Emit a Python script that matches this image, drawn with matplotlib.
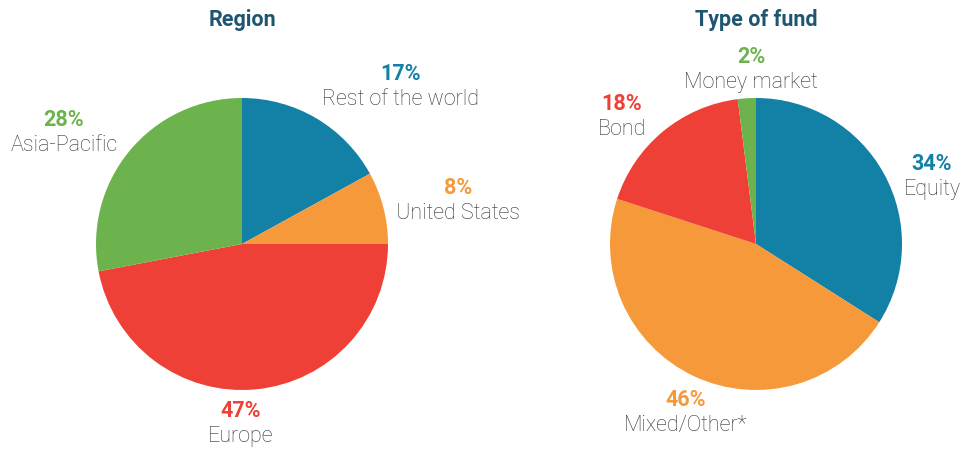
import matplotlib
matplotlib.use("Agg")
import matplotlib.pyplot as plt

# ── Data ──────────────────────────────────────────────────────────────────────
region_labels = ["Rest of the world", "United States", "Europe", "Asia-Pacific"]
region_values = [17, 8, 47, 28]

fund_labels = ["Equity", "Mixed/Other*", "Bond", "Money market"]
fund_values = [34, 46, 18, 2]

BLUE, ORANGE, RED, GREEN = "#1380A6", "#F6993A", "#EE4036", "#6DB34D"
region_colors = [BLUE, ORANGE, RED, GREEN]
fund_colors = [BLUE, ORANGE, RED, GREEN]

TITLE_COLOR = "#1E5570"
NAME_COLOR = "#333333"

# label anchor points in pixels (centre of the percent line)
region_label_px = [(400, 74), (458, 188), (241, 411), (64, 120)]
fund_label_px = [(932, 164), (686, 400), (622, 104), (751, 57)]

W, H = 961, 449
R = 146

plt.rcParams["font.family"] = ["Roboto", "DejaVu Sans"]

fig = plt.figure(figsize=(W / 100, H / 100), dpi=100)


def draw_pie(cx, cy, values, colors, labels, label_px, title):
    ax = fig.add_axes([(cx - R) / W, (H - cy - R) / H, 2 * R / W, 2 * R / H])
    ax.pie(values, colors=colors, startangle=90, counterclock=False,
           radius=1, wedgeprops=dict(linewidth=0))
    ax.set_xlim(-1, 1)
    ax.set_ylim(-1, 1)
    ax.set_aspect("auto")
    ax.axis("off")

    for val, col, name, (px, py) in zip(values, colors, labels, label_px):
        x = (px - cx) / R
        y = -(py - cy) / R
        ax.text(x, y, f"{val}%", color=col, fontsize=15.5, fontweight="bold",
                ha="center", va="center", clip_on=False)
        ax.text(x, y - 25.5 / R, name, color=NAME_COLOR, fontsize=15.5,
                fontweight="light", ha="center", va="center", clip_on=False)

    fig.text(cx / W, 1 - 20 / H, title, color=TITLE_COLOR, fontsize=15.5,
             fontweight="bold", ha="center", va="center")


draw_pie(242, 244, region_values, region_colors, region_labels,
         region_label_px, "Region")
draw_pie(756, 244, fund_values, fund_colors, fund_labels,
         fund_label_px, "Type of fund")

fig.savefig("out.png", dpi=100)
